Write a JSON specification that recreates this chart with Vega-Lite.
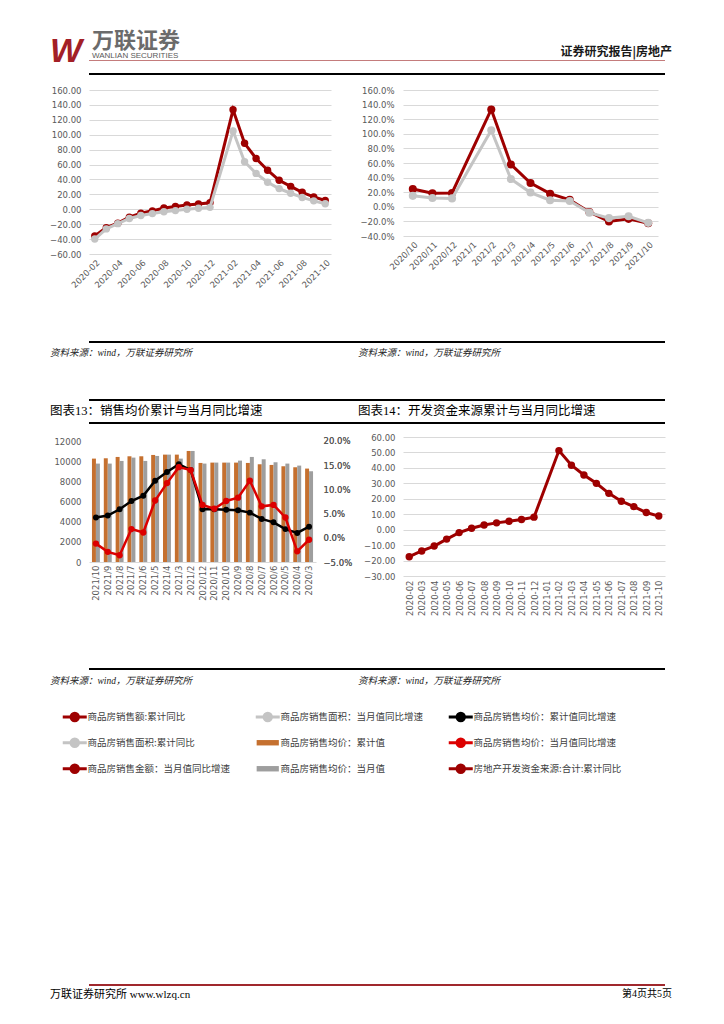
{
"$schema": "https://vega.github.io/schema/vega-lite/v6.json",
"padding": 0,
"background": "white",
"columns": 4,
"align": "none",
"bounds": "flush",
"spacing": 0,
"datasets": {
"empty": [],
"c1": [
{"m":"2020-02","s":"商品房销售额:累计同比","v":-35.9},{"m":"2020-03","s":"商品房销售额:累计同比","v":-24.7},{"m":"2020-04","s":"商品房销售额:累计同比","v":-18.6},{"m":"2020-05","s":"商品房销售额:累计同比","v":-10.6},{"m":"2020-06","s":"商品房销售额:累计同比","v":-5.4},{"m":"2020-07","s":"商品房销售额:累计同比","v":-2.1},{"m":"2020-08","s":"商品房销售额:累计同比","v":1.6},{"m":"2020-09","s":"商品房销售额:累计同比","v":3.7},{"m":"2020-10","s":"商品房销售额:累计同比","v":5.8},{"m":"2020-11","s":"商品房销售额:累计同比","v":7.2},{"m":"2020-12","s":"商品房销售额:累计同比","v":8.7},{"m":"2021-02","s":"商品房销售额:累计同比","v":133.4},{"m":"2021-03","s":"商品房销售额:累计同比","v":88.5},{"m":"2021-04","s":"商品房销售额:累计同比","v":68.2},{"m":"2021-05","s":"商品房销售额:累计同比","v":52.4},{"m":"2021-06","s":"商品房销售额:累计同比","v":38.9},{"m":"2021-07","s":"商品房销售额:累计同比","v":30.7},{"m":"2021-08","s":"商品房销售额:累计同比","v":22.8},{"m":"2021-09","s":"商品房销售额:累计同比","v":16.6},{"m":"2021-10","s":"商品房销售额:累计同比","v":11.8},
{"m":"2020-02","s":"商品房销售面积:累计同比","v":-39.9},{"m":"2020-03","s":"商品房销售面积:累计同比","v":-26.3},{"m":"2020-04","s":"商品房销售面积:累计同比","v":-19.3},{"m":"2020-05","s":"商品房销售面积:累计同比","v":-12.3},{"m":"2020-06","s":"商品房销售面积:累计同比","v":-8.4},{"m":"2020-07","s":"商品房销售面积:累计同比","v":-5.8},{"m":"2020-08","s":"商品房销售面积:累计同比","v":-3.3},{"m":"2020-09","s":"商品房销售面积:累计同比","v":-1.8},{"m":"2020-10","s":"商品房销售面积:累计同比","v":0.0},{"m":"2020-11","s":"商品房销售面积:累计同比","v":1.3},{"m":"2020-12","s":"商品房销售面积:累计同比","v":2.6},{"m":"2021-02","s":"商品房销售面积:累计同比","v":104.9},{"m":"2021-03","s":"商品房销售面积:累计同比","v":63.8},{"m":"2021-04","s":"商品房销售面积:累计同比","v":48.1},{"m":"2021-05","s":"商品房销售面积:累计同比","v":36.3},{"m":"2021-06","s":"商品房销售面积:累计同比","v":27.7},{"m":"2021-07","s":"商品房销售面积:累计同比","v":21.5},{"m":"2021-08","s":"商品房销售面积:累计同比","v":15.9},{"m":"2021-09","s":"商品房销售面积:累计同比","v":11.3},{"m":"2021-10","s":"商品房销售面积:累计同比","v":7.3}
],
"c2": [
{"m":"2020/10","s":"商品房销售金额：当月值同比增速","v":24.5},{"m":"2020/11","s":"商品房销售金额：当月值同比增速","v":18.5},{"m":"2020/12","s":"商品房销售金额：当月值同比增速","v":19.0},{"m":"2021/2","s":"商品房销售金额：当月值同比增速","v":133.4},{"m":"2021/3","s":"商品房销售金额：当月值同比增速","v":58.0},{"m":"2021/4","s":"商品房销售金额：当月值同比增速","v":32.5},{"m":"2021/5","s":"商品房销售金额：当月值同比增速","v":18.0},{"m":"2021/6","s":"商品房销售金额：当月值同比增速","v":9.5},{"m":"2021/7","s":"商品房销售金额：当月值同比增速","v":-7.0},{"m":"2021/8","s":"商品房销售金额：当月值同比增速","v":-20.0},{"m":"2021/9","s":"商品房销售金额：当月值同比增速","v":-16.5},{"m":"2021/10","s":"商品房销售金额：当月值同比增速","v":-22.5},
{"m":"2020/10","s":"商品房销售面积：当月值同比增速","v":15.0},{"m":"2020/11","s":"商品房销售面积：当月值同比增速","v":12.0},{"m":"2020/12","s":"商品房销售面积：当月值同比增速","v":11.5},{"m":"2021/2","s":"商品房销售面积：当月值同比增速","v":104.9},{"m":"2021/3","s":"商品房销售面积：当月值同比增速","v":38.0},{"m":"2021/4","s":"商品房销售面积：当月值同比增速","v":19.5},{"m":"2021/5","s":"商品房销售面积：当月值同比增速","v":9.0},{"m":"2021/6","s":"商品房销售面积：当月值同比增速","v":8.0},{"m":"2021/7","s":"商品房销售面积：当月值同比增速","v":-8.0},{"m":"2021/8","s":"商品房销售面积：当月值同比增速","v":-15.5},{"m":"2021/9","s":"商品房销售面积：当月值同比增速","v":-13.0},{"m":"2021/10","s":"商品房销售面积：当月值同比增速","v":-22.0}
],
"c3b": [
{"m":"2021/10","s":"商品房销售均价：累计值","v":10254},{"m":"2021/9","s":"商品房销售均价：累计值","v":10287},{"m":"2021/8","s":"商品房销售均价：累计值","v":10419},{"m":"2021/7","s":"商品房销售均价：累计值","v":10485},{"m":"2021/6","s":"商品房销售均价：累计值","v":10485},{"m":"2021/5","s":"商品房销售均价：累计值","v":10617},{"m":"2021/4","s":"商品房销售均价：累计值","v":10650},{"m":"2021/3","s":"商品房销售均价：累计值","v":10650},{"m":"2021/2","s":"商品房销售均价：累计值","v":11012},{"m":"2020/12","s":"商品房销售均价：累计值","v":9825},{"m":"2020/11","s":"商品房销售均价：累计值","v":9858},{"m":"2020/10","s":"商品房销售均价：累计值","v":9858},{"m":"2020/9","s":"商品房销售均价：累计值","v":9858},{"m":"2020/8","s":"商品房销售均价：累计值","v":9825},{"m":"2020/7","s":"商品房销售均价：累计值","v":9693},{"m":"2020/6","s":"商品房销售均价：累计值","v":9627},{"m":"2020/5","s":"商品房销售均价：累计值","v":9495},{"m":"2020/4","s":"商品房销售均价：累计值","v":9396},{"m":"2020/3","s":"商品房销售均价：累计值","v":9265},
{"m":"2021/10","s":"商品房销售均价：当月值","v":9760},{"m":"2021/9","s":"商品房销售均价：当月值","v":9760},{"m":"2021/8","s":"商品房销售均价：当月值","v":10023},{"m":"2021/7","s":"商品房销售均价：当月值","v":10353},{"m":"2021/6","s":"商品房销售均价：当月值","v":10023},{"m":"2021/5","s":"商品房销售均价：当月值","v":10518},{"m":"2021/4","s":"商品房销售均价：当月值","v":10650},{"m":"2021/3","s":"商品房销售均价：当月值","v":10254},{"m":"2021/2","s":"商品房销售均价：当月值","v":11012},{"m":"2020/12","s":"商品房销售均价：当月值","v":9760},{"m":"2020/11","s":"商品房销售均价：当月值","v":9858},{"m":"2020/10","s":"商品房销售均价：当月值","v":9858},{"m":"2020/9","s":"商品房销售均价：当月值","v":10056},{"m":"2020/8","s":"商品房销售均价：当月值","v":10419},{"m":"2020/7","s":"商品房销售均价：当月值","v":10188},{"m":"2020/6","s":"商品房销售均价：当月值","v":9891},{"m":"2020/5","s":"商品房销售均价：当月值","v":9760},{"m":"2020/4","s":"商品房销售均价：当月值","v":9561},{"m":"2020/3","s":"商品房销售均价：当月值","v":9000}
],
"c3l": [
{"m":"2021/10","s":"商品房销售均价：累计值同比增速","v":4.2},{"m":"2021/9","s":"商品房销售均价：累计值同比增速","v":4.6},{"m":"2021/8","s":"商品房销售均价：累计值同比增速","v":5.9},{"m":"2021/7","s":"商品房销售均价：累计值同比增速","v":7.6},{"m":"2021/6","s":"商品房销售均价：累计值同比增速","v":8.7},{"m":"2021/5","s":"商品房销售均价：累计值同比增速","v":11.8},{"m":"2021/4","s":"商品房销售均价：累计值同比增速","v":13.6},{"m":"2021/3","s":"商品房销售均价：累计值同比增速","v":15.2},{"m":"2021/2","s":"商品房销售均价：累计值同比增速","v":14.0},{"m":"2020/12","s":"商品房销售均价：累计值同比增速","v":5.9},{"m":"2020/11","s":"商品房销售均价：累计值同比增速","v":5.9},{"m":"2020/10","s":"商品房销售均价：累计值同比增速","v":5.8},{"m":"2020/9","s":"商品房销售均价：累计值同比增速","v":5.7},{"m":"2020/8","s":"商品房销售均价：累计值同比增速","v":5.2},{"m":"2020/7","s":"商品房销售均价：累计值同比增速","v":3.9},{"m":"2020/6","s":"商品房销售均价：累计值同比增速","v":3.2},{"m":"2020/5","s":"商品房销售均价：累计值同比增速","v":1.8},{"m":"2020/4","s":"商品房销售均价：累计值同比增速","v":1.0},{"m":"2020/3","s":"商品房销售均价：累计值同比增速","v":2.3},
{"m":"2021/10","s":"商品房销售均价：当月值同比增速","v":-1.2},{"m":"2021/9","s":"商品房销售均价：当月值同比增速","v":-2.9},{"m":"2021/8","s":"商品房销售均价：当月值同比增速","v":-3.6},{"m":"2021/7","s":"商品房销售均价：当月值同比增速","v":1.8},{"m":"2021/6","s":"商品房销售均价：当月值同比增速","v":1.1},{"m":"2021/5","s":"商品房销售均价：当月值同比增速","v":7.7},{"m":"2021/4","s":"商品房销售均价：当月值同比增速","v":11.3},{"m":"2021/3","s":"商品房销售均价：当月值同比增速","v":14.6},{"m":"2021/2","s":"商品房销售均价：当月值同比增速","v":14.0},{"m":"2020/12","s":"商品房销售均价：当月值同比增速","v":6.8},{"m":"2020/11","s":"商品房销售均价：当月值同比增速","v":6.0},{"m":"2020/10","s":"商品房销售均价：当月值同比增速","v":7.6},{"m":"2020/9","s":"商品房销售均价：当月值同比增速","v":8.3},{"m":"2020/8","s":"商品房销售均价：当月值同比增速","v":11.8},{"m":"2020/7","s":"商品房销售均价：当月值同比增速","v":6.5},{"m":"2020/6","s":"商品房销售均价：当月值同比增速","v":6.8},{"m":"2020/5","s":"商品房销售均价：当月值同比增速","v":4.2},{"m":"2020/4","s":"商品房销售均价：当月值同比增速","v":-2.8},{"m":"2020/3","s":"商品房销售均价：当月值同比增速","v":-0.4}
],
"c4": [
{"m":"2020-02","s":"房地产开发资金来源:合计:累计同比","v":-17.5},{"m":"2020-03","s":"房地产开发资金来源:合计:累计同比","v":-13.8},{"m":"2020-04","s":"房地产开发资金来源:合计:累计同比","v":-10.6},{"m":"2020-05","s":"房地产开发资金来源:合计:累计同比","v":-6.1},{"m":"2020-06","s":"房地产开发资金来源:合计:累计同比","v":-1.9},{"m":"2020-07","s":"房地产开发资金来源:合计:累计同比","v":0.9},{"m":"2020-08","s":"房地产开发资金来源:合计:累计同比","v":3.0},{"m":"2020-09","s":"房地产开发资金来源:合计:累计同比","v":4.4},{"m":"2020-10","s":"房地产开发资金来源:合计:累计同比","v":5.5},{"m":"2020-11","s":"房地产开发资金来源:合计:累计同比","v":6.6},{"m":"2020-12","s":"房地产开发资金来源:合计:累计同比","v":8.1},{"m":"2021-02","s":"房地产开发资金来源:合计:累计同比","v":51.2},{"m":"2021-03","s":"房地产开发资金来源:合计:累计同比","v":41.7},{"m":"2021-04","s":"房地产开发资金来源:合计:累计同比","v":35.4},{"m":"2021-05","s":"房地产开发资金来源:合计:累计同比","v":30.0},{"m":"2021-06","s":"房地产开发资金来源:合计:累计同比","v":23.5},{"m":"2021-07","s":"房地产开发资金来源:合计:累计同比","v":18.4},{"m":"2021-08","s":"房地产开发资金来源:合计:累计同比","v":14.9},{"m":"2021-09","s":"房地产开发资金来源:合计:累计同比","v":11.1},{"m":"2021-10","s":"房地产开发资金来源:合计:累计同比","v":8.8}
]
},
"config": {
"view": {"stroke": null},
"axis": {"labelFont": "DejaVu Sans", "labelFontSize": 8.5, "labelColor": "#595959", "ticks": false, "domain": false, "gridColor": "#D9D9D9", "gridWidth": 1},
"legend": {"labelFont": "Noto Sans CJK SC", "labelFontSize": 9.5, "labelColor": "#404040", "labelLimit": 400, "symbolSize": 144, "labelOffset": 8, "padding": 0},
"title": {"font": "Liberation Serif, Noto Sans CJK SC", "fontWeight": "normal", "color": "#000000"}
},
"concat": [
{"width":89,"height":60,"data":{"name":"empty"},"mark":"point"},
{"width":1,"height":1,"data":{"name":"empty"},"mark":"point"},
{"width":1,"height":1,"data":{"name":"empty"},"mark":"point"},
{"width":1,"height":1,"data":{"name":"empty"},"mark":"point"},

{"width":89,"height":1,"data":{"name":"empty"},"mark":"point"},
{"width":242,"height":1,"data":{"name":"empty"},"mark":"point","view":{"fill":"#C47C7C","stroke":null},"title":{"text":"万联证券","orient":"top","anchor":"start","frame":"group","dx":3,"offset":7,"font":"Noto Sans CJK SC","fontSize":22,"fontWeight":"bold","color":"#6B6B6B"}},
{"width":72,"height":1,"data":{"name":"empty"},"mark":"point","view":{"fill":"#C47C7C","stroke":null}},
{"width":262,"height":1,"data":{"name":"empty"},"mark":"point","view":{"fill":"#C47C7C","stroke":null},"title":{"text":"证券研究报告|房地产","orient":"top","anchor":"end","frame":"group","dx":7,"offset":1.5,"font":"Noto Sans CJK SC","fontSize":12,"fontWeight":"bold","color":"#1A1A1A"}},

{"width":89,"height":12,"data":{"name":"empty"},"mark":"point"},
{"width":1,"height":1,"data":{"name":"empty"},"mark":"point","title":{"text":"WANLIAN SECURITIES","orient":"top","anchor":"start","frame":"group","dx":3,"offset":0.8,"font":"Liberation Sans","fontSize":8,"fontWeight":"normal","color":"#595959"}},
{"width":1,"height":1,"data":{"name":"empty"},"mark":"point"},
{"width":1,"height":1,"data":{"name":"empty"},"mark":"point"},

{"width":89,"height":2,"data":{"name":"empty"},"mark":"point"},
{"width":242,"height":2,"data":{"name":"empty"},"mark":"point","view":{"fill":"#000000","stroke":null},"title":{"text":"W","orient":"top","anchor":"start","frame":"group","dx":-39,"offset":4.4,"font":"Liberation Sans","fontSize":34,"fontWeight":"bold","fontStyle":"italic","color":"#A31F26"}},
{"width":72,"height":2,"data":{"name":"empty"},"mark":"point","view":{"fill":"#000000","stroke":null}},
{"width":262,"height":2,"data":{"name":"empty"},"mark":"point","view":{"fill":"#000000","stroke":null}},

{"width":89,"height":15,"data":{"name":"empty"},"mark":"point"},
{"width":1,"height":1,"data":{"name":"empty"},"mark":"point"},
{"width":1,"height":1,"data":{"name":"empty"},"mark":"point"},
{"width":1,"height":1,"data":{"name":"empty"},"mark":"point"},

{"width":89,"height":1,"data":{"name":"empty"},"mark":"point"},
{
"width": 242, "height": 164,
"data": {"name": "c1"},
"encoding": {
"x": {"field": "m", "type": "ordinal", "title": null, "scale": {"type": "point", "padding": 0.5, "domain": ["2020-02","2020-03","2020-04","2020-05","2020-06","2020-07","2020-08","2020-09","2020-10","2020-11","2020-12","2021-01","2021-02","2021-03","2021-04","2021-05","2021-06","2021-07","2021-08","2021-09","2021-10"]}, "axis": {"labelAngle": -45, "labelPadding": 4, "values": ["2020-02","2020-04","2020-06","2020-08","2020-10","2020-12","2021-02","2021-04","2021-06","2021-08","2021-10"]}},
"y": {"field": "v", "type": "quantitative", "title": null, "scale": {"domain": [-60, 160], "nice": false, "zero": false}, "axis": {"values": [-60,-40,-20,0,20,40,60,80,100,120,140,160], "format": ".2f", "grid": true, "labelPadding": 8}},
"color": {"field": "s", "type": "nominal", "scale": {"domain": ["商品房销售额:累计同比","商品房销售面积:累计同比","商品房销售金额：当月值同比增速","商品房销售面积：当月值同比增速","商品房销售均价：累计值","商品房销售均价：当月值","商品房销售均价：累计值同比增速","商品房销售均价：当月值同比增速","房地产开发资金来源:合计:累计同比"], "range": ["#9E0000","#C4C4C4","#9E0000","#C4C4C4","#C5702F","#9E9E9E","#000000","#DC0000","#9E0000"]},
"legend": {"orient": "none", "legendX": 70, "legendY": 712, "title": null, "direction": "vertical", "columns": 3, "columnPadding": 18, "rowPadding": 6,
"encode": {"symbols": {"update": {"shape": {"signal": "(datum.value === '商品房销售均价：累计值' || datum.value === '商品房销售均价：当月值') ? 'M-1.85,-0.45L1.85,-0.45L1.85,0.45L-1.85,0.45Z' : 'M-2,0L2,0M-0.62,0A0.62,0.62,0,1,1,0.62,0A0.62,0.62,0,1,1,-0.62,0Z'"}, "fill": {"scale": "color", "field": "value"}, "stroke": {"scale": "color", "field": "value"}, "strokeWidth": {"signal": "(datum.value === '商品房销售均价：累计值' || datum.value === '商品房销售均价：当月值') ? 0 : 3"}, "opacity": {"value": 1}}}}}}
},
"layer": [
{"transform": [{"filter": {"field": "s", "equal": "商品房销售额:累计同比"}}], "mark": {"type": "line", "strokeWidth": 3, "point": {"filled": true, "size": 55}}},
{"transform": [{"filter": {"field": "s", "equal": "商品房销售面积:累计同比"}}], "mark": {"type": "line", "strokeWidth": 3, "point": {"filled": true, "size": 55}}}
]
},
{"width":72,"height":1,"data":{"name":"empty"},"mark":"point"},
{
"width": 255, "height": 146,
"data": {"name": "c2"},
"encoding": {
"x": {"field": "m", "type": "ordinal", "title": null, "scale": {"type": "point", "padding": 0.5, "domain": ["2020/10","2020/11","2020/12","2021/1","2021/2","2021/3","2021/4","2021/5","2021/6","2021/7","2021/8","2021/9","2021/10"]}, "axis": {"labelAngle": -45, "labelPadding": 4}},
"y": {"field": "v", "type": "quantitative", "title": null, "scale": {"domain": [-40, 160], "nice": false, "zero": false}, "axis": {"values": [-40,-20,0,20,40,60,80,100,120,140,160], "labelExpr": "format(datum.value, '.1f') + '%'", "grid": true, "labelPadding": 9}},
"color": {"field": "s", "type": "nominal", "scale": {"domain": ["商品房销售额:累计同比","商品房销售面积:累计同比","商品房销售金额：当月值同比增速","商品房销售面积：当月值同比增速","商品房销售均价：累计值","商品房销售均价：当月值","商品房销售均价：累计值同比增速","商品房销售均价：当月值同比增速","房地产开发资金来源:合计:累计同比"], "range": ["#9E0000","#C4C4C4","#9E0000","#C4C4C4","#C5702F","#9E9E9E","#000000","#DC0000","#9E0000"]}}
},
"layer": [
{"transform": [{"filter": {"field": "s", "equal": "商品房销售金额：当月值同比增速"}}], "mark": {"type": "line", "strokeWidth": 3, "point": {"filled": true, "size": 65}}},
{"transform": [{"filter": {"field": "s", "equal": "商品房销售面积：当月值同比增速"}}], "mark": {"type": "line", "strokeWidth": 3, "point": {"filled": true, "size": 65}}}
]
},

{"width":89,"height":87,"data":{"name":"empty"},"mark":"point"},
{"width":1,"height":1,"data":{"name":"empty"},"mark":"point"},
{"width":1,"height":1,"data":{"name":"empty"},"mark":"point"},
{"width":1,"height":1,"data":{"name":"empty"},"mark":"point"},

{"width":89,"height":2,"data":{"name":"empty"},"mark":"point"},
{"width":242,"height":2,"data":{"name":"empty"},"mark":"point","view":{"fill":"#000000","stroke":null},"title":{"text":"资料来源：wind，万联证券研究所","orient":"bottom","anchor":"start","frame":"group","dx":-39,"offset":5,"fontSize":9.5,"fontStyle":"italic","color":"#222222"}},
{"width":72,"height":2,"data":{"name":"empty"},"mark":"point","view":{"fill":"#000000","stroke":null}},
{"width":262,"height":2,"data":{"name":"empty"},"mark":"point","view":{"fill":"#000000","stroke":null},"title":{"text":"资料来源：wind，万联证券研究所","orient":"bottom","anchor":"start","frame":"group","dx":-45,"offset":5,"fontSize":9.5,"fontStyle":"italic","color":"#222222"}},

{"width":89,"height":56,"data":{"name":"empty"},"mark":"point"},
{"width":1,"height":1,"data":{"name":"empty"},"mark":"point"},
{"width":1,"height":1,"data":{"name":"empty"},"mark":"point"},
{"width":1,"height":1,"data":{"name":"empty"},"mark":"point"},

{"width":89,"height":2,"data":{"name":"empty"},"mark":"point"},
{"width":242,"height":2,"data":{"name":"empty"},"mark":"point","view":{"fill":"#000000","stroke":null},"title":{"text":"图表13：销售均价累计与当月同比增速","orient":"bottom","anchor":"start","frame":"group","dx":-39,"offset":4,"fontSize":12.5,"color":"#000000"}},
{"width":72,"height":2,"data":{"name":"empty"},"mark":"point","view":{"fill":"#000000","stroke":null}},
{"width":262,"height":2,"data":{"name":"empty"},"mark":"point","view":{"fill":"#000000","stroke":null},"title":{"text":"图表14：开发资金来源累计与当月同比增速","orient":"bottom","anchor":"start","frame":"group","dx":-45,"offset":4,"fontSize":12.5,"color":"#000000"}},

{"width":89,"height":21,"data":{"name":"empty"},"mark":"point"},
{"width":1,"height":1,"data":{"name":"empty"},"mark":"point"},
{"width":1,"height":1,"data":{"name":"empty"},"mark":"point"},
{"width":1,"height":1,"data":{"name":"empty"},"mark":"point"},

{"width":89,"height":2,"data":{"name":"empty"},"mark":"point"},
{"width":242,"height":2,"data":{"name":"empty"},"mark":"point","view":{"fill":"#000000","stroke":null}},
{"width":72,"height":2,"data":{"name":"empty"},"mark":"point","view":{"fill":"#000000","stroke":null}},
{"width":262,"height":2,"data":{"name":"empty"},"mark":"point","view":{"fill":"#000000","stroke":null}},

{"width":89,"height":13,"data":{"name":"empty"},"mark":"point"},
{"width":1,"height":1,"data":{"name":"empty"},"mark":"point"},
{"width":1,"height":1,"data":{"name":"empty"},"mark":"point"},
{"width":1,"height":1,"data":{"name":"empty"},"mark":"point"},

{"width":89,"height":1,"data":{"name":"empty"},"mark":"point"},
{
"width": 227, "height": 125,
"layer": [
{"data": {"name": "c3b"}, "mark": {"type": "bar"},
"encoding": {
"x": {"field": "m", "type": "nominal", "title": null, "sort": null, "scale": {"domain": ["2021/10","2021/9","2021/8","2021/7","2021/6","2021/5","2021/4","2021/3","2021/2","2020/12","2020/11","2020/10","2020/9","2020/8","2020/7","2020/6","2020/5","2020/4","2020/3"], "paddingInner": 0.33, "paddingOuter": 0.25}, "axis": {"labelAngle": -90, "labelPadding": 3, "domain": true, "domainColor": "#D9D9D9"}},
"xOffset": {"field": "s", "type": "nominal", "scale": {"domain": ["商品房销售均价：累计值","商品房销售均价：当月值"]}},
"y": {"field": "v", "type": "quantitative", "title": null, "scale": {"domain": [0, 12397], "nice": false}, "axis": {"orient": "left", "values": [0,2000,4000,6000,8000,10000,12000], "format": "d", "grid": false, "labelPadding": 8}},
"color": {"field": "s", "type": "nominal", "scale": {"domain": ["商品房销售额:累计同比","商品房销售面积:累计同比","商品房销售金额：当月值同比增速","商品房销售面积：当月值同比增速","商品房销售均价：累计值","商品房销售均价：当月值","商品房销售均价：累计值同比增速","商品房销售均价：当月值同比增速","房地产开发资金来源:合计:累计同比"], "range": ["#9E0000","#C4C4C4","#9E0000","#C4C4C4","#C5702F","#9E9E9E","#000000","#DC0000","#9E0000"]}}
}},
{"data": {"name": "c3l"}, "transform": [{"filter": {"field": "s", "equal": "商品房销售均价：累计值同比增速"}}], "mark": {"type": "line", "strokeWidth": 2.5, "point": {"filled": true, "size": 35}},
"encoding": {
"x": {"field": "m", "type": "nominal", "title": null, "sort": null, "scale": {"domain": ["2021/10","2021/9","2021/8","2021/7","2021/6","2021/5","2021/4","2021/3","2021/2","2020/12","2020/11","2020/10","2020/9","2020/8","2020/7","2020/6","2020/5","2020/4","2020/3"]}},
"y": {"field": "v", "type": "quantitative", "title": null, "scale": {"domain": [-5, 20.826], "nice": false, "zero": false}, "axis": {"orient": "right", "values": [-5,0,5,10,15,20], "labelExpr": "format(datum.value, '.1f') + '%'", "grid": false, "labelPadding": 7}},
"color": {"field": "s", "type": "nominal", "scale": {"domain": ["商品房销售额:累计同比","商品房销售面积:累计同比","商品房销售金额：当月值同比增速","商品房销售面积：当月值同比增速","商品房销售均价：累计值","商品房销售均价：当月值","商品房销售均价：累计值同比增速","商品房销售均价：当月值同比增速","房地产开发资金来源:合计:累计同比"], "range": ["#9E0000","#C4C4C4","#9E0000","#C4C4C4","#C5702F","#9E9E9E","#000000","#DC0000","#9E0000"]}}
}},
{"data": {"name": "c3l"}, "transform": [{"filter": {"field": "s", "equal": "商品房销售均价：当月值同比增速"}}], "mark": {"type": "line", "strokeWidth": 2.5, "point": {"filled": true, "size": 40}},
"encoding": {
"x": {"field": "m", "type": "nominal", "title": null, "sort": null, "scale": {"domain": ["2021/10","2021/9","2021/8","2021/7","2021/6","2021/5","2021/4","2021/3","2021/2","2020/12","2020/11","2020/10","2020/9","2020/8","2020/7","2020/6","2020/5","2020/4","2020/3"]}},
"y": {"field": "v", "type": "quantitative", "title": null, "scale": {"domain": [-5, 20.826], "nice": false, "zero": false}, "axis": {"orient": "right", "values": [-5,0,5,10,15,20], "labelExpr": "format(datum.value, '.1f') + '%'", "grid": false, "labelPadding": 7}},
"color": {"field": "s", "type": "nominal", "scale": {"domain": ["商品房销售额:累计同比","商品房销售面积:累计同比","商品房销售金额：当月值同比增速","商品房销售面积：当月值同比增速","商品房销售均价：累计值","商品房销售均价：当月值","商品房销售均价：累计值同比增速","商品房销售均价：当月值同比增速","房地产开发资金来源:合计:累计同比"], "range": ["#9E0000","#C4C4C4","#9E0000","#C4C4C4","#C5702F","#9E9E9E","#000000","#DC0000","#9E0000"]}}
}}
],
"resolve": {"scale": {"y": "independent"}}
},
{"width":72,"height":1,"data":{"name":"empty"},"mark":"point"},
{
"width": 262, "height": 139,
"data": {"name": "c4"},
"mark": {"type": "line", "strokeWidth": 3, "point": {"filled": true, "size": 55}},
"encoding": {
"x": {"field": "m", "type": "ordinal", "title": null, "scale": {"type": "point", "padding": 0.5, "domain": ["2020-02","2020-03","2020-04","2020-05","2020-06","2020-07","2020-08","2020-09","2020-10","2020-11","2020-12","2021-01","2021-02","2021-03","2021-04","2021-05","2021-06","2021-07","2021-08","2021-09","2021-10"]}, "axis": {"labelAngle": -90, "labelPadding": 4}},
"y": {"field": "v", "type": "quantitative", "title": null, "scale": {"domain": [-30, 60], "nice": false, "zero": false}, "axis": {"values": [-30,-20,-10,0,10,20,30,40,50,60], "format": ".2f", "grid": true, "labelPadding": 8}},
"color": {"field": "s", "type": "nominal", "scale": {"domain": ["商品房销售额:累计同比","商品房销售面积:累计同比","商品房销售金额：当月值同比增速","商品房销售面积：当月值同比增速","商品房销售均价：累计值","商品房销售均价：当月值","商品房销售均价：累计值同比增速","商品房销售均价：当月值同比增速","房地产开发资金来源:合计:累计同比"], "range": ["#9E0000","#C4C4C4","#9E0000","#C4C4C4","#C5702F","#9E9E9E","#000000","#DC0000","#9E0000"]}}
}
},

{"width":89,"height":92,"data":{"name":"empty"},"mark":"point"},
{"width":1,"height":1,"data":{"name":"empty"},"mark":"point"},
{"width":1,"height":1,"data":{"name":"empty"},"mark":"point"},
{"width":1,"height":1,"data":{"name":"empty"},"mark":"point"},

{"width":89,"height":2,"data":{"name":"empty"},"mark":"point"},
{"width":242,"height":2,"data":{"name":"empty"},"mark":"point","view":{"fill":"#000000","stroke":null},"title":{"text":"资料来源：wind，万联证券研究所","orient":"bottom","anchor":"start","frame":"group","dx":-39,"offset":5.5,"fontSize":9.5,"fontStyle":"italic","color":"#222222"}},
{"width":72,"height":2,"data":{"name":"empty"},"mark":"point","view":{"fill":"#000000","stroke":null}},
{"width":262,"height":2,"data":{"name":"empty"},"mark":"point","view":{"fill":"#000000","stroke":null},"title":{"text":"资料来源：wind，万联证券研究所","orient":"bottom","anchor":"start","frame":"group","dx":-45,"offset":5.5,"fontSize":9.5,"fontStyle":"italic","color":"#222222"}},

{"width":89,"height":314,"data":{"name":"empty"},"mark":"point"},
{"width":1,"height":1,"data":{"name":"empty"},"mark":"point"},
{"width":1,"height":1,"data":{"name":"empty"},"mark":"point"},
{"width":1,"height":1,"data":{"name":"empty"},"mark":"point"},

{"width":89,"height":2,"data":{"name":"empty"},"mark":"point"},
{"width":242,"height":2,"data":{"name":"empty"},"mark":"point","view":{"fill":"#A0282D","stroke":null},"title":{"text":"万联证券研究所  www.wlzq.cn","orient":"bottom","anchor":"start","frame":"group","dx":-39,"offset":3.3,"fontSize":11,"color":"#000000"}},
{"width":72,"height":2,"data":{"name":"empty"},"mark":"point","view":{"fill":"#A0282D","stroke":null}},
{"width":262,"height":2,"data":{"name":"empty"},"mark":"point","view":{"fill":"#A0282D","stroke":null},"title":{"text":"第4页共5页","orient":"bottom","anchor":"end","frame":"group","dx":7,"offset":3.3,"fontSize":10,"color":"#000000"}}
]
}
